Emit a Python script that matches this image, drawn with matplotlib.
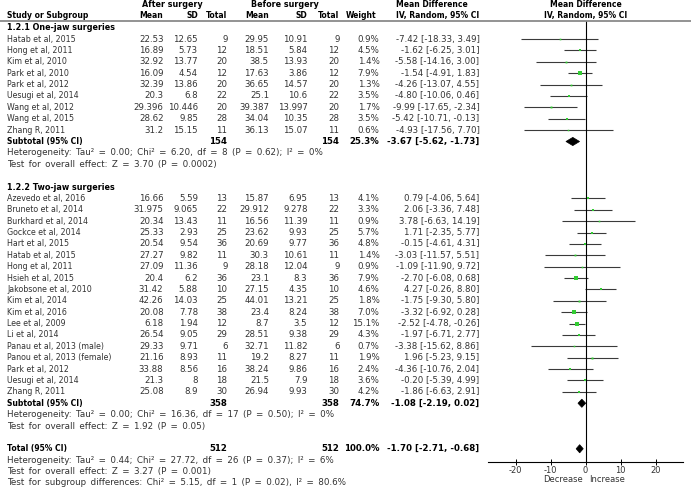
import matplotlib.pyplot as plt
import matplotlib.transforms as mtransforms
from matplotlib.lines import Line2D
from matplotlib.patches import Polygon

plt.rcParams['font.family'] = ['DejaVu Sans']
plt.rcParams['axes.unicode_minus'] = False

# ---- data: one-jaw surgeries
one_names = ['Hatab et al, 2015', 'Hong et al, 2011', 'Kim et al, 2010', 'Park et al, 2010',
             'Park et al, 2012', 'Uesugi et al, 2014', 'Wang et al, 2012', 'Wang et al, 2015',
             'Zhang R, 2011']
one_mean_a = [22.53, 16.89, 32.92, 16.09, 32.39, 20.3, 29.396, 28.62, 31.2]
one_sd_a = [12.65, 5.73, 13.77, 4.54, 13.86, 6.8, 10.446, 9.85, 15.15]
one_n_a = [9, 12, 20, 12, 20, 22, 20, 28, 11]
one_mean_b = [29.95, 18.51, 38.5, 17.63, 36.65, 25.1, 39.387, 34.04, 36.13]
one_sd_b = [10.91, 5.84, 13.93, 3.86, 14.57, 10.6, 13.997, 10.35, 15.07]
one_n_b = [9, 12, 20, 12, 20, 22, 20, 28, 11]
one_weight = [0.9, 4.5, 1.4, 7.9, 1.3, 3.5, 1.7, 3.5, 0.6]
one_md = [-7.42, -1.62, -5.58, -1.54, -4.26, -4.80, -9.99, -5.42, -4.93]
one_lo = [-18.33, -6.25, -14.16, -4.91, -13.07, -10.06, -17.65, -10.71, -17.56]
one_hi = [3.49, 3.01, 3.00, 1.83, 4.55, 0.46, -2.34, -0.13, 7.70]
one_sub = [154, 154, 25.3, -3.67, -5.62, -1.73]

# ---- data: two-jaw surgeries
two_names = ['Azevedo et al, 2016', 'Bruneto et al, 2014', 'Burkhard et al, 2014',
             'Gockce et al, 2014', 'Hart et al, 2015', 'Hatab et al, 2015', 'Hong et al, 2011',
             'Hsieh et al, 2015', 'Jakobsone et al, 2010', 'Kim et al, 2014', 'Kim et al, 2016',
             'Lee et al, 2009', 'Li et al, 2014', 'Panau et al, 2013 (male)',
             'Panou et al, 2013 (female)', 'Park et al, 2012', 'Uesugi et al, 2014',
             'Zhang R, 2011']
two_mean_a = [16.66, 31.975, 20.34, 25.33, 20.54, 27.27, 27.09, 20.4, 31.42, 42.26, 20.08,
              6.18, 26.54, 29.33, 21.16, 33.88, 21.3, 25.08]
two_sd_a = [5.59, 9.065, 13.43, 2.93, 9.54, 9.82, 11.36, 6.2, 5.88, 14.03, 7.78, 1.94, 9.05,
            9.71, 8.93, 8.56, 8, 8.9]
two_n_a = [13, 22, 11, 25, 36, 11, 9, 36, 10, 25, 38, 12, 29, 6, 11, 16, 18, 30]
two_mean_b = [15.87, 29.912, 16.56, 23.62, 20.69, 30.3, 28.18, 23.1, 27.15, 44.01, 23.4, 8.7,
              28.51, 32.71, 19.2, 38.24, 21.5, 26.94]
two_sd_b = [6.95, 9.278, 11.39, 9.93, 9.77, 10.61, 12.04, 8.3, 4.35, 13.21, 8.24, 3.5, 9.38,
            11.82, 8.27, 9.86, 7.9, 9.93]
two_n_b = [13, 22, 11, 25, 36, 11, 9, 36, 10, 25, 38, 12, 29, 6, 11, 16, 18, 30]
two_weight = [4.1, 3.3, 0.9, 5.7, 4.8, 1.4, 0.9, 7.9, 4.6, 1.8, 7.0, 15.1, 4.3, 0.7, 1.9,
              2.4, 3.6, 4.2]
two_md = [0.79, 2.06, 3.78, 1.71, -0.15, -3.03, -1.09, -2.70, 4.27, -1.75, -3.32, -2.52,
          -1.97, -3.38, 1.96, -4.36, -0.20, -1.86]
two_lo = [-4.06, -3.36, -6.63, -2.35, -4.61, -11.57, -11.90, -6.08, -0.26, -9.30, -6.92,
          -4.78, -6.71, -15.62, -5.23, -10.76, -5.39, -6.63]
two_hi = [5.64, 7.48, 14.19, 5.77, 4.31, 5.51, 9.72, 0.68, 8.80, 5.80, 0.28, -0.26, 2.77,
          8.86, 9.15, 2.04, 4.99, 2.91]
two_sub = [358, 358, 74.7, -1.08, -2.19, 0.02]

total = [512, 512, 100.0, -1.70, -2.71, -0.68]

one_stats = ['Heterogeneity: Tau² = 0.00; Chi² = 6.20, df = 8 (P = 0.62); I² = 0%',
             'Test for overall effect: Z = 3.70 (P = 0.0002)']
two_stats = ['Heterogeneity: Tau² = 0.00; Chi² = 16.36, df = 17 (P = 0.50); I² = 0%',
             'Test for overall effect: Z = 1.92 (P = 0.05)']
total_stats = ['Heterogeneity: Tau² = 0.44; Chi² = 27.72, df = 26 (P = 0.37); I² = 6%',
               'Test for overall effect: Z = 3.27 (P = 0.001)',
               'Test for subgroup differences: Chi² = 5.15, df = 1 (P = 0.02), I² = 80.6%']

xticks = [-20, -10, 0, 10, 20]

# ---- layout (pixels)
W, H = 691, 491
Y0, ROW = 27.7, 11.38          # centre of first row, row height
TOP, AXIS = 20.7, 462.3
FS = 5.5        # bold headers
FS_NAME = 5.7   # study names
FS_NUM = 6.2    # numeric cells
FS_STAT = 6.3   # heterogeneity / test lines
TXT = '#333333'
col_x = [163.5, 198, 227.5, 269, 307.5, 339.5, 379.5, 479.5]

fig = plt.figure(figsize=(W / 100, H / 100), dpi=100)
ax = fig.add_axes([488.3 / W, 1 - AXIS / H, (683.3 - 488.3) / W, (AXIS - TOP) / H])
ax.set_xlim(-27.8, 27.9)
ax.set_ylim((AXIS - Y0) / ROW, (TOP - Y0) / ROW)
tr = mtransforms.blended_transform_factory(fig.transFigure, ax.transData)


def put(xpx, k, s, ha='right', bold=False, size=FS, color=None):
    fig.text(xpx / W, k, s, transform=tr, ha=ha, va='center', fontsize=size,
             fontweight='bold' if bold else 'normal',
             color=color or ('black' if bold else TXT))


def ci_text(md, lo, hi):
    return f'{md:.2f} [{lo:.2f}, {hi:.2f}]'


def stat_line(k, s):
    # the original font sets these lines with wide word spacing
    put(7, k, s.replace(' ', '\u2002'), ha='left', size=FS_STAT)


def diamond(k, md, lo, hi):
    ax.add_patch(Polygon([(lo, k), (md, k - 0.36), (hi, k), (md, k + 0.36)],
                         closed=True, facecolor='black', edgecolor='black', lw=0.5))


# headers
put(172, -2.0, 'After surgery', ha='center', bold=True, size=5.8)
put(285, -2.0, 'Before surgery', ha='center', bold=True, size=5.8)
put(432, -2.0, 'Mean Difference', ha='center', bold=True)
put(585.5, -2.0, 'Mean Difference', ha='center', bold=True)
put(7, -1.05, 'Study or Subgroup', ha='left', bold=True)
for x, s in zip(col_x[:6], ['Mean', 'SD', 'Total', 'Mean', 'SD', 'Total']):
    put(x, -1.05, s, bold=True)
put(376, -1.05, 'Weight', bold=True)
put(479.5, -1.05, 'IV, Random, 95% CI', bold=True)
put(585.5, -1.05, 'IV, Random, 95% CI', ha='center', bold=True)
fig.add_artist(Line2D([0, 1], [1 - TOP / H, 1 - TOP / H], color='#8a8a8a', lw=1.3,
                      transform=fig.transFigure))

groups = [
    ('1.2.1 One-jaw surgeries', one_names, one_mean_a, one_sd_a, one_n_a, one_mean_b,
     one_sd_b, one_n_b, one_weight, one_md, one_lo, one_hi, one_sub, one_stats),
    ('1.2.2 Two-jaw surgeries', two_names, two_mean_a, two_sd_a, two_n_a, two_mean_b,
     two_sd_b, two_n_b, two_weight, two_md, two_lo, two_hi, two_sub, two_stats),
]

k = 0
for (title, names, ma, sa, na, mb, sb, nb, wt, md, lo, hi, sub, stats) in groups:
    put(7, k, title, ha='left', bold=True, size=5.8)
    k += 1
    for i in range(len(names)):
        put(7, k, names[i], ha='left', size=FS_NAME)
        for x, v in zip(col_x[:6], [ma[i], sa[i], na[i], mb[i], sb[i], nb[i]]):
            put(x, k, str(v), size=FS_NUM)
        put(col_x[6], k, f'{wt[i]:.1f}%', size=FS_NUM)
        put(col_x[7], k, ci_text(md[i], lo[i], hi[i]), size=FS_NUM)
        ax.plot([lo[i], hi[i]], [k, k], color='#3a3a3a', lw=0.8, solid_capstyle='butt')
        side = 0.6 * wt[i] ** 0.5 + 0.6
        ax.plot(md[i], k, 's', color='#33cc33', markersize=side, markeredgewidth=0,
                zorder=3)
        k += 1
    put(7, k, 'Subtotal (95% CI)', ha='left', bold=True)
    put(col_x[2], k, str(sub[0]), bold=True, size=FS_NUM)
    put(col_x[5], k, str(sub[1]), bold=True, size=FS_NUM)
    put(col_x[6], k, f'{sub[2]:.1f}%', bold=True, size=FS_NUM)
    put(col_x[7], k, ci_text(*sub[3:]), bold=True, size=FS_NUM)
    diamond(k, *sub[3:])
    k += 1
    for s in stats:
        stat_line(k, s)
        k += 1
    k += 1

put(7, k, 'Total (95% CI)', ha='left', bold=True)
put(col_x[2], k, str(total[0]), bold=True, size=FS_NUM)
put(col_x[5], k, str(total[1]), bold=True, size=FS_NUM)
put(col_x[6], k, f'{total[2]:.1f}%', bold=True, size=FS_NUM)
put(col_x[7], k, ci_text(*total[3:]), bold=True, size=FS_NUM)
diamond(k, *total[3:])
k += 1
for s in total_stats:
    stat_line(k, s)
    k += 1

# forest axis
ax.axvline(0, color='black', lw=0.8)
for side in ['left', 'right', 'top']:
    ax.spines[side].set_visible(False)
ax.spines['bottom'].set_linewidth(0.8)
ax.set_yticks([])
ax.set_xticks(xticks)
ax.set_xticklabels([str(t) for t in xticks])
ax.tick_params(axis='x', direction='inout', length=4, width=0.7, pad=0.5,
               labelsize=6, labelcolor=TXT)
k_lab = (479.7 - Y0) / ROW
ax.text(-0.9, k_lab, 'Decrease', ha='right', va='center', fontsize=6, color=TXT)
ax.text(0.9, k_lab, 'Increase', ha='left', va='center', fontsize=6, color=TXT)

fig.savefig('out.png', dpi=100, facecolor='white')
